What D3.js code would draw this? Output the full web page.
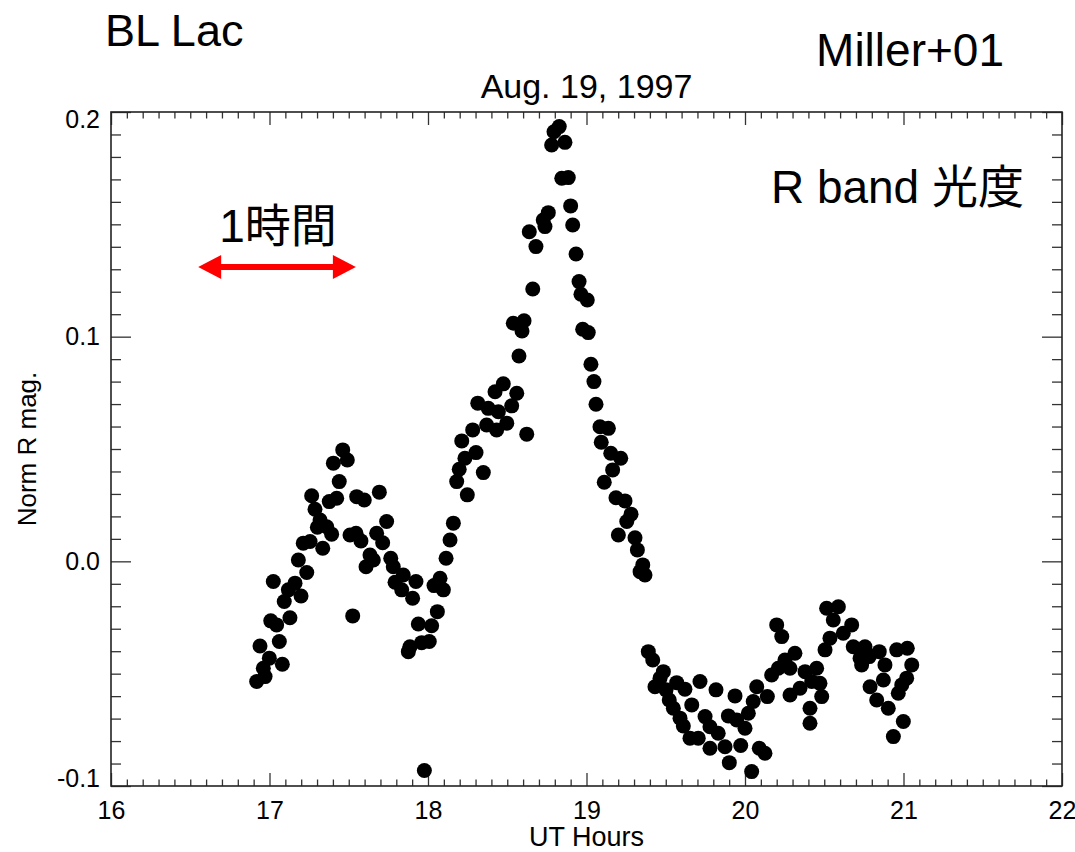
<!DOCTYPE html>
<html><head><meta charset="utf-8">
<script src="https://cdn.jsdelivr.net/npm/d3@7"></script>
<style>
body{margin:0;background:#fff}
text{font-family:"Liberation Sans",Arial,"Noto Sans CJK JP",sans-serif;fill:#000}
</style>
</head><body>
<svg id="c" width="1075" height="852"></svg>
<script>
// ---- data ----
const timeHours = [
16.919,16.972,16.961,16.999,16.940,17.081,17.062,17.008,17.045,17.129,
17.024,17.093,17.119,17.161,17.199,17.235,17.182,17.213,17.256,17.336,
17.302,17.319,17.361,17.392,17.287,17.266,17.377,17.424,17.440,17.403,
17.462,17.491,17.525,17.508,17.546,17.577,17.550,17.598,17.693,17.634,
17.655,17.609,17.676,17.739,17.714,17.765,17.781,17.792,17.844,17.834,
17.924,17.903,17.939,17.886,17.876,17.960,18.008,18.023,18.059,17.977,
18.038,18.076,18.097,
18.828,18.795,18.780,18.864,18.844,18.885,18.900,18.913,18.934,18.953,
18.965,19.005,18.976,19.011,19.028,19.047,19.060,19.085,19.138,19.093,
19.153,19.216,19.165,19.112,19.186,19.243,19.281,19.254,19.201,19.306,
19.321,19.355,19.369,19.338,18.759,18.727,18.738,18.639,18.681,18.661,
18.538,18.606,18.593,18.574,18.475,18.423,18.560,18.528,18.314,18.380,
18.444,18.497,18.433,18.370,18.282,18.623,18.213,18.303,18.233,18.197,
18.349,18.181,18.248,18.160,18.139,18.114,
19.390,19.418,19.485,19.464,19.432,19.502,19.569,19.621,19.716,19.522,
19.548,19.590,19.664,19.611,19.653,19.705,19.748,19.779,19.817,19.779,
19.831,19.874,19.901,19.895,19.937,19.948,20.000,19.973,20.042,20.090,
20.126,20.021,20.052,20.074,20.141,20.168,20.210,20.252,20.315,20.284,
20.200,20.232,20.379,20.452,20.347,20.284,20.421,20.473,20.484,20.410,
20.410,20.505,20.536,20.515,20.589,20.557,20.620,20.673,20.683,20.726,
20.757,20.736,20.784,20.847,20.883,20.789,20.831,20.873,20.904,20.936,
20.999,20.967,20.989,21.020,21.052,20.957,21.024
];
const normRMag = [
-0.0535,-0.0513,-0.0476,-0.0431,-0.0377,-0.0458,-0.0357,-0.0265,-0.0283,-0.0251,
-0.0090,-0.0179,-0.0127,-0.0097,-0.0154,-0.0050,0.0006,0.0081,0.0088,0.0058,
0.0152,0.0184,0.0154,0.0121,0.0232,0.0292,0.0266,0.0281,0.0355,0.0437,
0.0496,0.0451,-0.0243,0.0117,0.0125,0.0091,0.0288,0.0273,0.0308,0.0028,
0.0006,-0.0024,0.0125,0.0177,0.0083,0.0014,-0.0024,-0.0093,-0.0061,-0.0127,
-0.0090,-0.0164,-0.0279,-0.0380,-0.0402,-0.0362,-0.0357,-0.0287,-0.0224,-0.0931,
-0.0108,-0.0075,-0.0127,
0.1935,0.1912,0.1853,0.1865,0.1705,0.1708,0.1582,0.1497,0.1368,0.1245,
0.1189,0.1163,0.1033,0.1018,0.0877,0.0800,0.0699,0.0599,0.0592,0.0530,
0.0481,0.0459,0.0407,0.0352,0.0283,0.0269,0.0210,0.0177,0.0117,0.0105,
0.0051,-0.0016,-0.0061,-0.0046,0.1552,0.1519,0.1490,0.1467,0.1401,0.1212,
0.1060,0.1071,0.1025,0.0914,0.0790,0.0755,0.0748,0.0692,0.0704,0.0681,
0.0666,0.0615,0.0585,0.0607,0.0585,0.0566,0.0536,0.0484,0.0459,0.0410,
0.0395,0.0355,0.0296,0.0170,0.0095,0.0014,
-0.0402,-0.0439,-0.0491,-0.0520,-0.0558,-0.0572,-0.0540,-0.0569,-0.0535,-0.0617,
-0.0654,-0.0698,-0.0639,-0.0733,-0.0787,-0.0787,-0.0691,-0.0736,-0.0572,-0.0832,
-0.0765,-0.0825,-0.0896,-0.0688,-0.0599,-0.0706,-0.0743,-0.0820,-0.0936,-0.0832,
-0.0854,-0.0676,-0.0624,-0.0558,-0.0602,-0.0506,-0.0476,-0.0439,-0.0409,-0.0476,
-0.0283,-0.0335,-0.0491,-0.0476,-0.0565,-0.0595,-0.0535,-0.0543,-0.0602,-0.0654,
-0.0721,-0.0394,-0.0342,-0.0209,-0.0202,-0.0261,-0.0320,-0.0283,-0.0380,-0.0431,
-0.0380,-0.0461,-0.0424,-0.0402,-0.0461,-0.0558,-0.0617,-0.0528,-0.0654,-0.0780,
-0.0713,-0.0587,-0.0550,-0.0520,-0.0461,-0.0394,-0.0387
];
const xTicks = [16,17,18,19,20,21,22];
const yTicks = [-0.1,0.0,0.1,0.2];
const yTickLabels = ["-0.1","0.0","0.1","0.2"];
const arrowSpan = [16.55, 17.545];   // one hour marker
const arrowLevel = 0.131;

// ---- layout ----
const L = 111, R = 1062, T = 112, B = 786;
const svg = d3.select("#c");
const x = d3.scaleLinear().domain([16,22]).range([L,R]);
const y = d3.scaleLinear().domain([-0.1,0.2]).range([B,T]);

const xMinor = d3.range(16,22.001,0.1).map(v=>+v.toFixed(2)).filter(v=>Math.abs(v-Math.round(v))>1e-6);
const yMinor = d3.range(-0.1,0.2001,0.01).map(v=>+v.toFixed(3)).filter(v=>Math.abs(v*10-Math.round(v*10))>1e-6);

function styleAxis(g){
  g.select(".domain").remove();
  g.selectAll(".tick line").attr("stroke","#333").attr("stroke-width",1.3);
}
// bottom
svg.append("g").attr("transform",`translate(0,${B})`)
  .call(d3.axisBottom(x).tickValues(xTicks).tickSize(-13).tickPadding(15).tickFormat(d3.format("d")))
  .call(styleAxis)
  .call(g=>g.selectAll("text").attr("font-size",25).attr("font-family","Liberation Sans, Arial").attr("fill","#000"));
svg.append("g").attr("transform",`translate(0,${B})`)
  .call(d3.axisBottom(x).tickValues(xMinor).tickSize(-6.5).tickFormat(""))
  .call(styleAxis);
// top
svg.append("g").attr("transform",`translate(0,${T})`)
  .call(d3.axisTop(x).tickValues(xTicks).tickSize(-13).tickFormat(""))
  .call(styleAxis);
svg.append("g").attr("transform",`translate(0,${T})`)
  .call(d3.axisTop(x).tickValues(xMinor).tickSize(-6.5).tickFormat(""))
  .call(styleAxis);
// left
svg.append("g").attr("transform",`translate(${L},0)`)
  .call(d3.axisLeft(y).tickValues(yTicks).tickSize(-20).tickPadding(11).tickFormat((d,i)=>yTickLabels[i]))
  .call(styleAxis)
  .call(g=>g.selectAll("text").attr("font-size",25).attr("font-family","Liberation Sans, Arial").attr("fill","#000")
     .attr("transform",d=> d===0.2 ? "translate(0,7)" : (d===-0.1 ? "translate(0,-8)" : null)));
svg.append("g").attr("transform",`translate(${L},0)`)
  .call(d3.axisLeft(y).tickValues(yMinor).tickSize(-10).tickFormat(""))
  .call(styleAxis);
// right
svg.append("g").attr("transform",`translate(${R},0)`)
  .call(d3.axisRight(y).tickValues(yTicks).tickSize(-20).tickFormat(""))
  .call(styleAxis);
svg.append("g").attr("transform",`translate(${R},0)`)
  .call(d3.axisRight(y).tickValues(yMinor).tickSize(-10).tickFormat(""))
  .call(styleAxis);

// frame
svg.append("rect").attr("x",L).attr("y",T).attr("width",R-L).attr("height",B-T)
  .attr("fill","none").attr("stroke","#222").attr("stroke-width",1.6);

// points
svg.append("g").selectAll("circle").data(d3.zip(timeHours,normRMag)).join("circle")
  .attr("cx",d=>x(d[0])).attr("cy",d=>y(d[1])).attr("r",7.5).attr("fill","#000");

// titles
svg.append("text").attr("x",(L+R)/2).attr("y",98).attr("text-anchor","middle")
  .attr("font-size",34).text("Aug. 19, 1997");
svg.append("text").attr("x",(L+R)/2).attr("y",846).attr("text-anchor","middle")
  .attr("font-size",27).text("UT Hours");
svg.append("text").attr("transform",`translate(36,${(T+B)/2}) rotate(-90)`).attr("text-anchor","middle")
  .attr("font-size",26).text("Norm R mag.");

// annotations
svg.append("text").attr("x",105).attr("y",46).attr("font-size",45).text("BL Lac");
svg.append("text").attr("x",1004).attr("y",66).attr("text-anchor","end").attr("font-size",46).text("Miller+01");
svg.append("text").attr("x",1024).attr("y",203).attr("text-anchor","end").attr("font-size",46).text("R band 光度");
svg.append("text").attr("x",(x(arrowSpan[0])+x(arrowSpan[1]))/2 + 1).attr("y",242).attr("text-anchor","middle")
  .attr("font-size",46).text("1時間");

// red double arrow
const ax0 = x(arrowSpan[0]), ax1 = x(arrowSpan[1]), ay = y(arrowLevel);
const hl = 23, hh = 12, sh = 3;
const pts = [
  [ax0,ay],[ax0+hl,ay-hh],[ax0+hl,ay-sh],[ax1-hl,ay-sh],[ax1-hl,ay-hh],[ax1,ay],
  [ax1-hl,ay+hh],[ax1-hl,ay+sh],[ax0+hl,ay+sh],[ax0+hl,ay+hh]
];
svg.append("path").attr("d",d3.line()(pts)+"Z").attr("fill","#ff0000");
</script>
</body></html>
